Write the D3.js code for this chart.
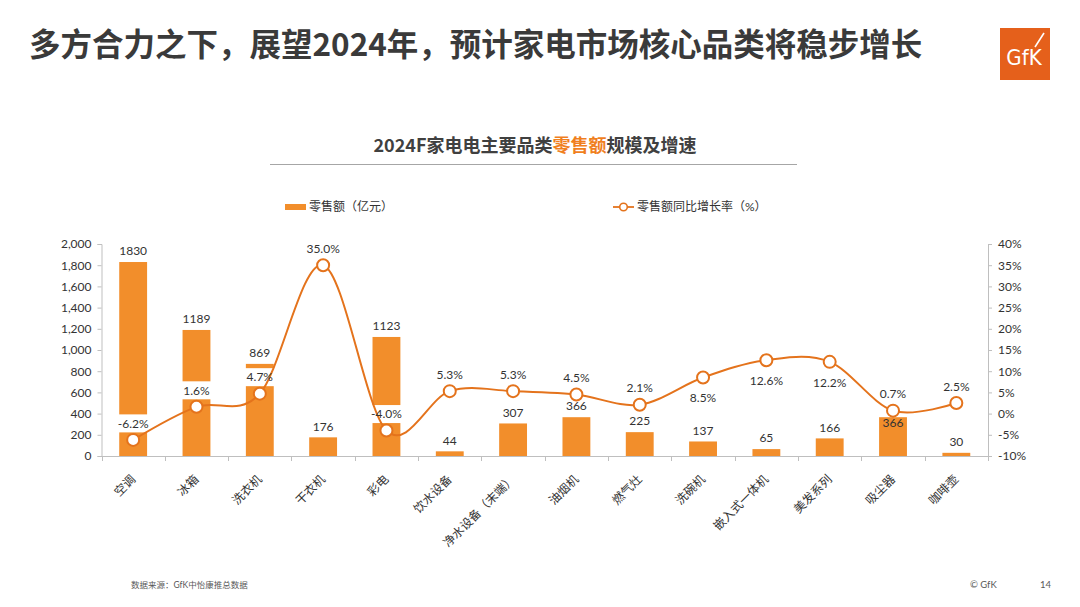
<!DOCTYPE html>
<html><head><meta charset="utf-8">
<script src="https://cdn.jsdelivr.net/npm/d3@7"></script>
<style>
html,body{margin:0;padding:0;background:#fff;}
svg{display:block;}
</style></head>
<body>
<svg id="chart" width="1080" height="607"></svg>
<script>
// ---------- data ----------
const categories = ["空调","冰箱","洗衣机","干衣机","彩电","饮水设备","净水设备（末端）","油烟机","燃气灶","洗碗机","嵌入式一体机","美发系列","吸尘器","咖啡壶"];
const sales = [1830,1189,869,176,1123,44,307,366,225,137,65,166,366,30];
const growth = [-6.2,1.6,4.7,35.0,-4.0,5.3,5.3,4.5,2.1,8.5,12.6,12.2,0.7,2.5];
const leftTickValues = [0,200,400,600,800,1000,1200,1400,1600,1800,2000];
const rightTickValues = [-10,-5,0,5,10,15,20,25,30,35,40];
const growthLabelSide = ["above","above","above","above","above","above","above","above","above","below","below","below","above","above"];
const salesLabelSide = ["out","out","out","out","out","out","out","out","out","out","out","out","in","out"];

// ---------- style ----------
const barColor = "#F28E2B";
const lineColor = "#E4731C";
const axisColor = "#BFBFBF";
const textColor = "#333333";
const font = "Lato, 'Noto Sans CJK SC', sans-serif";

const svg = d3.select("#chart");
svg.append("rect").attr("width",1080).attr("height",607).attr("fill","#fff");

// Main title
svg.append("text").attr("x",29).attr("y",56)
  .attr("font-family","'Noto Sans CJK SC', sans-serif").attr("font-weight","bold")
  .attr("font-size",31.5).attr("fill","#3A3A3A")
  .text("多方合力之下，展望2024年，预计家电市场核心品类将稳步增长");

// Logo
const logo = svg.append("g");
logo.append("rect").attr("x",1000).attr("y",28).attr("width",50).attr("height",52).attr("fill","#E5601B");
logo.append("text").attr("x",1024).attr("y",65).attr("text-anchor","middle")
  .attr("font-family","'DejaVu Sans Condensed','Liberation Sans Narrow',sans-serif").attr("font-size",22)
  .attr("fill","#fff").attr("font-weight","300").text("GfK");
logo.append("line").attr("x1",1035).attr("y1",47).attr("x2",1044).attr("y2",33).attr("stroke","#fff").attr("stroke-width",1.6);

// Chart title
const ct = svg.append("text").attr("x",535).attr("y",152).attr("text-anchor","middle")
  .attr("font-family","'Noto Sans CJK SC', sans-serif").attr("font-weight","bold").attr("font-size",18).attr("fill","#404040");
ct.append("tspan").text("2024F家电电主要品类");
ct.append("tspan").attr("fill","#F07F1E").text("零售额");
ct.append("tspan").text("规模及增速");
svg.append("line").attr("x1",270).attr("x2",797).attr("y1",164.5).attr("y2",164.5).attr("stroke","#A6A6A6").attr("stroke-width",1);

// Legend
svg.append("rect").attr("x",285).attr("y",204).attr("width",21).attr("height",6).attr("fill",barColor);
svg.append("text").attr("x",309).attr("y",211).attr("font-family",font).attr("font-size",12).attr("fill",textColor).text("零售额（亿元）");
svg.append("line").attr("x1",613).attr("x2",634).attr("y1",207).attr("y2",207).attr("stroke",lineColor).attr("stroke-width",1.8);
svg.append("circle").attr("cx",623.5).attr("cy",207).attr("r",3.8).attr("fill","#fff").attr("stroke",lineColor).attr("stroke-width",1.6);
svg.append("text").attr("x",637).attr("y",211).attr("font-family",font).attr("font-size",12).attr("fill",textColor).text("零售额同比增长率（%）");

// Scales
const x = d3.scaleBand().domain(categories).range([101.5,988]).paddingInner(0.56).paddingOuter(0.28);
const xb = d3.scaleBand().domain(categories).range([101.5,988]);
const yL = d3.scaleLinear().domain([0,2000]).range([456,244]);
const yR = d3.scaleLinear().domain([-10,40]).range([456,244]);

// Axes
const gL = svg.append("g").attr("transform","translate(101.5,0)")
  .call(d3.axisLeft(yL).tickValues(leftTickValues).tickFormat(d3.format(",")).tickSize(4).tickPadding(6));
const gR = svg.append("g").attr("transform","translate(988,0)")
  .call(d3.axisRight(yR).tickValues(rightTickValues).tickFormat(d => d + "%").tickSize(4).tickPadding(6));
[gL,gR].forEach(g => {
  g.select(".domain").attr("stroke",axisColor);
  g.selectAll(".tick line").attr("stroke",axisColor);
  g.selectAll(".tick text").attr("font-family",font).attr("font-size",12).attr("fill",textColor);
});
// x axis with ticks at band boundaries
const gX = svg.append("g");
gX.append("line").attr("x1",101.5).attr("x2",988).attr("y1",456.5).attr("y2",456.5).attr("stroke",axisColor);
const bounds = categories.map(c => xb(c)).concat([xb(categories[categories.length-1]) + xb.bandwidth()]);
gX.selectAll("line.tk").data(bounds).enter().append("line").attr("class","tk")
  .attr("x1",d=>Math.round(d)+0.5).attr("x2",d=>Math.round(d)+0.5).attr("y1",456).attr("y2",461).attr("stroke",axisColor);
gX.selectAll("text.cat").data(categories).enter().append("text").attr("class","cat")
  .attr("transform",d => `translate(${xb(d)+xb.bandwidth()/2},477) rotate(-45)`)
  .attr("text-anchor","end").attr("dy","0.35em")
  .attr("font-family",font).attr("font-size",12).attr("fill",textColor).text(d=>d);

// Bars
const data = categories.map((c,i) => ({c, s: sales[i], g: growth[i], gs: growthLabelSide[i], ss: salesLabelSide[i]}));
svg.append("g").selectAll("rect").data(data).enter().append("rect")
  .attr("x",d=>x(d.c)).attr("width",x.bandwidth())
  .attr("y",d=>yL(d.s)).attr("height",d=>yL(0)-yL(d.s)).attr("fill",barColor);

// growth label positions
const cx = d => xb(d.c) + xb.bandwidth()/2;
const gLabelY = d => d.gs === "above" ? yR(d.g) - 16.5 : yR(d.g) + 20.5;

// white label boxes (cover the bars like the original)
const boxG = svg.append("g");

// line
const line = d3.line().x(d=>cx(d)).y(d=>yR(d.g)).curve(d3.curveCardinal.tension(0));
svg.append("path").datum(data).attr("d",line).attr("fill","none").attr("stroke",lineColor).attr("stroke-width",2);
svg.append("g").selectAll("circle").data(data).enter().append("circle")
  .attr("cx",cx).attr("cy",d=>yR(d.g)).attr("r",6).attr("fill","#fff").attr("stroke",lineColor).attr("stroke-width",2);

// growth labels
const gt = svg.append("g").selectAll("text").data(data).enter().append("text")
  .attr("x",cx).attr("y",gLabelY).attr("dy","0.35em").attr("text-anchor","middle")
  .attr("font-family",font).attr("font-size",12).attr("fill",textColor).text(d=>d.g.toFixed(1)+"%");
gt.each(function(d){
  const w = this.getComputedTextLength();
  const bw = Math.max(w + 6, x.bandwidth() + 2);
  boxG.append("rect").attr("x",cx(d)-bw/2).attr("y",gLabelY(d)-9).attr("width",bw).attr("height",18).attr("fill","#fff");
});

// sales labels
svg.append("g").selectAll("text").data(data).enter().append("text")
  .attr("x",cx).attr("y",d => d.ss === "out" ? yL(d.s) - 11 : yL(d.s) + 6)
  .attr("dy","0.35em").attr("text-anchor","middle")
  .attr("font-family",font).attr("font-size",12).attr("fill",textColor).text(d=>d.s);

// Footer
svg.append("text").attr("x",131).attr("y",588).attr("font-family",font).attr("font-size",8.5).attr("fill","#595959").text("数据来源：GfK中怡康推总数据");
svg.append("text").attr("x",970).attr("y",588).attr("font-family",font).attr("font-size",9.5).attr("fill","#595959").text("© GfK");
svg.append("text").attr("x",1040).attr("y",588).attr("font-family",font).attr("font-size",9.5).attr("fill","#595959").text("14");
</script>
</body></html>
